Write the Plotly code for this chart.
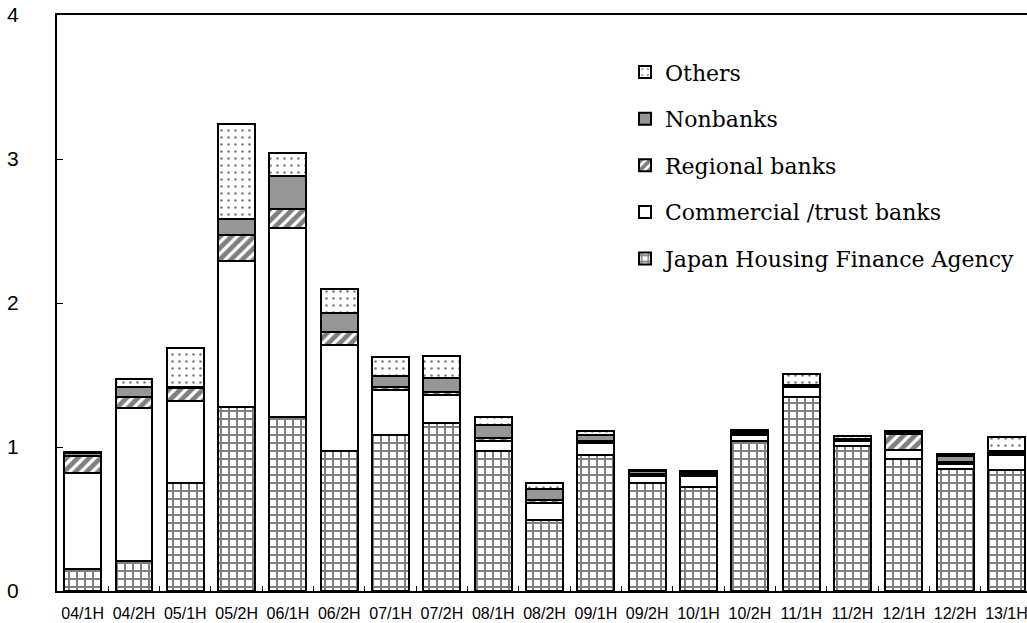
import plotly.graph_objects as go

categories = ["04/1H", "04/2H", "05/1H", "05/2H", "06/1H", "06/2H", "07/1H", "07/2H",
              "08/1H", "08/2H", "09/1H", "09/2H", "10/1H", "10/2H", "11/1H", "11/2H",
              "12/1H", "12/2H", "13/1H"]

jhfa       = [0.15, 0.21, 0.75, 1.28, 1.21, 0.97, 1.085, 1.17, 0.97, 0.49, 0.945, 0.75, 0.725, 1.04, 1.35, 1.01, 0.92, 0.845, 0.84]
commercial = [0.67, 1.06, 0.57, 1.01, 1.31, 0.74, 0.31, 0.19, 0.07, 0.12, 0.085, 0.05, 0.075, 0.045, 0.065, 0.03, 0.06, 0.04, 0.105]
regional   = [0.115, 0.08, 0.09, 0.18, 0.13, 0.09, 0.02, 0.02, 0.02, 0.02, 0.01, 0.01, 0.01, 0.01, 0.005, 0.005, 0.11, 0.01, 0.01]
nonbanks   = [0.02, 0.07, 0.01, 0.11, 0.23, 0.13, 0.08, 0.10, 0.09, 0.08, 0.04, 0.02, 0.01, 0.01, 0.01, 0.01, 0.01, 0.045, 0.015]
others     = [0.01, 0.05, 0.27, 0.66, 0.16, 0.17, 0.13, 0.15, 0.06, 0.04, 0.03, 0.01, 0.01, 0.01, 0.08, 0.02, 0.01, 0.01, 0.10]

series = [
    ("Japan Housing Finance Agency", jhfa, "white", dict(shape="+", fgcolor="black", bgcolor="white", size=8, solidity=0.44), 5),
    ("Commercial /trust banks", commercial, "white", None, 4),
    ("Regional banks", regional, "white", dict(shape="/", fgcolor="black", bgcolor="white", size=8, solidity=0.6), 3),
    ("Nonbanks", nonbanks, "#969696", None, 2),
    ("Others", others, "white", dict(shape=".", fgcolor="black", bgcolor="white", size=7, solidity=0.11), 1),
]

fig = go.Figure()
for name, vals, color, pattern, rank in series:
    marker = dict(color=color, line=dict(color="black", width=2))
    if pattern:
        marker["pattern"] = pattern
    fig.add_trace(go.Bar(x=categories, y=vals, name=name, marker=marker,
                         legendgroup=name, legendrank=rank))

fig.update_layout(
    width=1027, height=623,
    barmode="stack", bargap=0.28,
    plot_bgcolor="white", paper_bgcolor="white",
    margin=dict(l=57, r=0, t=15, b=32, autoexpand=False),
    showlegend=True,
    legend=dict(x=0.5856, y=0.937, xanchor="left", yanchor="top",
                font=dict(family="'DejaVu Serif', 'Liberation Serif', serif", size=22, color="black"),
                traceorder="grouped", tracegroupgap=15,
                bgcolor="rgba(0,0,0,0)"),
    font=dict(family="'Liberation Sans', Arial, sans-serif", color="black"),
)
fig.update_xaxes(
    range=[-0.5, 18.4], showline=True, linecolor="black", linewidth=2, mirror=True,
    ticks="inside", tickson="boundaries", ticklen=5, tickcolor="black", tickwidth=1,
    tickangle=0, automargin=False,
    tickfont=dict(family="'Liberation Sans', Arial, sans-serif", size=16, color="black"),
    ticklabelstandoff=7, showgrid=False,
)
fig.update_yaxes(
    range=[0, 4], dtick=1, showline=True, linecolor="black", linewidth=2, mirror=False,
    ticks="inside", ticklen=6, tickcolor="black", tickwidth=1, automargin=False,
    tickfont=dict(family="'Liberation Sans', Arial, sans-serif", size=21, color="black"),
    ticklabelstandoff=32, showgrid=False, zeroline=False,
)

fig.write_html("out.html", config={"displayModeBar": False},
               post_script="document.body.style.margin='0';")
